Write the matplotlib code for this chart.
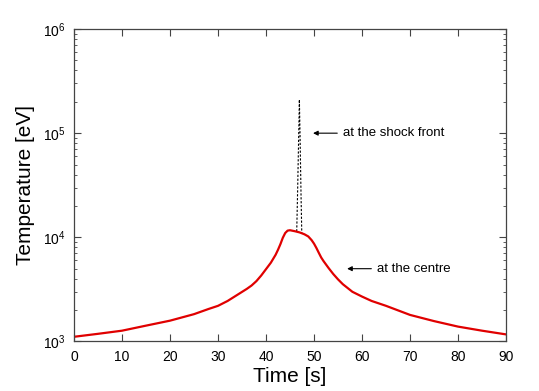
import matplotlib
matplotlib.use('Agg')
import matplotlib.pyplot as plt
from matplotlib.ticker import LogLocator, NullFormatter

plt.rcParams['font.family'] = ['Liberation Sans', 'DejaVu Sans']
plt.rcParams['mathtext.fontset'] = 'custom'
plt.rcParams['mathtext.rm'] = 'Liberation Sans'

# temperature at the centre
t_centre = [0, 5, 10, 15, 20, 25, 28, 30, 32, 34, 36, 37, 38, 39, 40, 41, 42,
            42.5, 43, 43.5, 44, 44.5, 45, 46, 47, 48, 48.8, 49.5, 50, 50.5, 51,
            51.5, 52, 53, 54, 55, 56, 58, 60, 62, 65, 70, 75, 80, 85, 90]
T_centre = [1110, 1185, 1270, 1420, 1585, 1830, 2050, 2200, 2450, 2800, 3200,
            3450, 3800, 4300, 4950, 5700, 6800, 7600, 8600, 9900, 11000,
            11600, 11700, 11450, 11150, 10700, 10200, 9400, 8700, 7900, 7100,
            6400, 5900, 5100, 4450, 3950, 3550, 3000, 2700, 2450, 2200, 1800,
            1570, 1390, 1270, 1170]

# temperature at the shock front
t_shock = [46.4, 46.6, 46.8, 46.95, 47.1, 47.3, 47.45]
T_shock = [11400, 30000, 90000, 210000, 90000, 25000, 11000]

fig = plt.figure(figsize=(5.39, 3.91), dpi=100)
ax = fig.add_axes([0.1373, 0.1266, 0.8015, 0.7992])

ax.plot(t_shock, T_shock, color='black', linestyle=(0, (2, 1.5)), linewidth=0.8)
ax.plot(t_centre, T_centre, color='#e00000', linewidth=1.6)

ax.set_yscale('log')
ax.set_xlim(0, 90)
ax.set_ylim(1e3, 1e6)
ax.set_xticks(range(0, 91, 10))
ax.yaxis.set_minor_locator(LogLocator(base=10, subs=range(2, 10)))
ax.yaxis.set_minor_formatter(NullFormatter())

ax.tick_params(which='both', direction='in', top=True, right=True,
               labelsize=10, color='#444444')
ax.tick_params(which='major', length=5, width=0.8, pad=6)
ax.tick_params(which='minor', length=2.5, width=0.6)
for s in ax.spines.values():
    s.set_color('#444444')
    s.set_linewidth(0.9)

ax.set_xlabel('Time [s]', fontsize=15, labelpad=2)
ax.set_ylabel('Temperature [eV]', fontsize=15, labelpad=6)

ax.annotate('at the shock front', xy=(49.8, 1.0e5), xytext=(56.0, 1.0e5),
            fontsize=9.5, va='center',
            arrowprops=dict(arrowstyle='-|>', color='black', lw=0.8,
                            mutation_scale=7, shrinkA=2, shrinkB=0))
ax.annotate('at the centre', xy=(56.9, 5.0e3), xytext=(63.1, 5.0e3),
            fontsize=9.5, va='center',
            arrowprops=dict(arrowstyle='-|>', color='black', lw=0.8,
                            mutation_scale=7, shrinkA=2, shrinkB=0))

fig.savefig('out.png', dpi=100)
